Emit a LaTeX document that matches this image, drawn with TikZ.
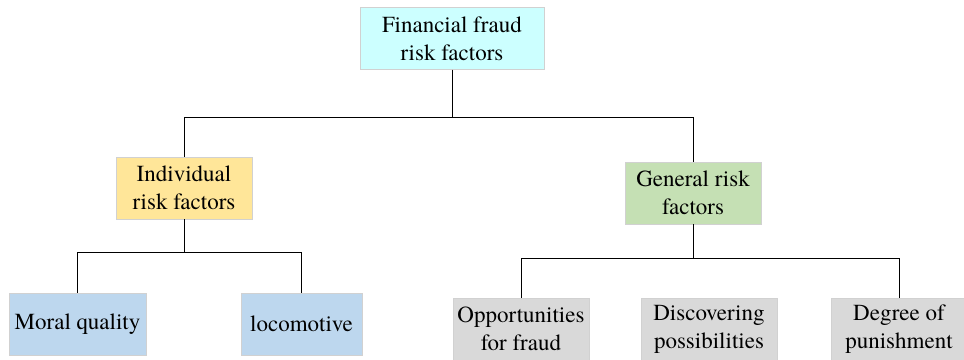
\documentclass[tikz,border=0pt]{standalone}
\usepackage{fontspec}
\setmainfont{TeX Gyre Termes}
\definecolor{topcyan}{HTML}{CCFFFF}
\definecolor{indgold}{HTML}{FFE699}
\definecolor{gengreen}{HTML}{C5E0B4}
\definecolor{leafblue}{HTML}{BDD7EE}
\definecolor{leafgray}{HTML}{D9D9D9}
\begin{document}
\begin{tikzpicture}[x=1pt,y=-1pt,
  box/.style={draw=black!18, minimum height=62pt, minimum width=136pt, inner sep=0pt,
    align=center, font=\rmfamily\fontsize{23}{28}\selectfont},
  wire/.style={draw=black, line width=0.8pt}]
  \useasboundingbox (0,0) rectangle (964,359);

  \node[box, fill=topcyan, minimum width=184pt] (fraud) at (452,38.5) {Financial fraud\\risk factors};
  \node[box, fill=indgold] (ind) at (184,188) {Individual\\risk factors};
  \node[box, fill=gengreen] (gen) at (693,193) {General risk\\factors};

  \node[box, fill=leafblue, minimum width=137pt] (moral) at (77.5,324) {Moral quality};
  \node[box, fill=leafblue, minimum width=121pt] (loco) at (301.5,324) {locomotive};
  \foreach \name/\x/\txt in {opp/521/{Opportunities\\for fraud},
                             disc/709/{Discovering\\possibilities},
                             deg/899/{Degree of\\punishment}}
    \node[box, fill=leafgray] (\name) at (\x,329) {\txt};

  % tree lines
  \draw[wire] (fraud.south) -- ++(0,48) coordinate (busA);
  \draw[wire] (ind.north) |- (busA) -| (gen.north);
  \draw[wire] (ind.south) -- ++(0,33) coordinate (busB);
  \draw[wire] (moral.north) |- (busB) -| (loco.north);
  \draw[wire] (gen.south) -- ++(0,34) coordinate (busC);
  \draw[wire] (opp.north) |- (busC) -| (deg.north);
\end{tikzpicture}
\end{document}
